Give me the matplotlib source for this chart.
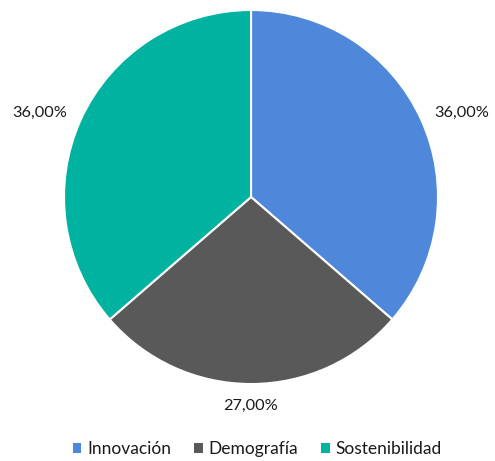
import numpy as np
import matplotlib
matplotlib.use('Agg')
import matplotlib.pyplot as plt
from matplotlib.patches import Patch

plt.rcParams['font.family'] = ['Lato', 'DejaVu Sans']

categories = ['Innovación', 'Demografía', 'Sostenibilidad']
values = [36, 27, 36]
pct_labels = ['36,00%', '27,00%', '36,00%']
colors = ['#4F88DB', '#595959', '#00B2A0']

fig = plt.figure(figsize=(4.95, 4.61), dpi=100)
ax = fig.add_axes([0.1293, 0.167, 0.7556, 0.8113])

wedges, _ = ax.pie(values, colors=colors, startangle=90, counterclock=False,
                   radius=1.0, wedgeprops=dict(edgecolor='white', linewidth=1.5))
ax.set_xlim(-1, 1)
ax.set_ylim(-1, 1)
ax.set_aspect('equal')
ax.axis('off')

# labels outside each wedge
for w, lab in zip(wedges, pct_labels):
    mid = np.deg2rad((w.theta1 + w.theta2) / 2)
    x, y = 1.08 * np.cos(mid), 1.08 * np.sin(mid)
    if abs(np.cos(mid)) < 0.2:
        ha = 'center'
        va = 'top' if y < 0 else 'bottom'
    else:
        ha = 'left' if x > 0 else 'right'
        va = 'center'
    ax.text(x, y, lab, ha=ha, va=va, fontsize=11.7, color='#1a1a1a', clip_on=False)

handles = [Patch(facecolor=c, edgecolor='none') for c in colors]
fig.legend(handles, categories, loc='center', bbox_to_anchor=(0.52, 1 - 449 / 461),
           ncol=3, frameon=False, fontsize=12.5, handlelength=0.5, handleheight=0.5,
           handletextpad=0.35, columnspacing=1.3, labelcolor='#1a1a1a')

fig.savefig('out.png', dpi=100)
plt.close(fig)
